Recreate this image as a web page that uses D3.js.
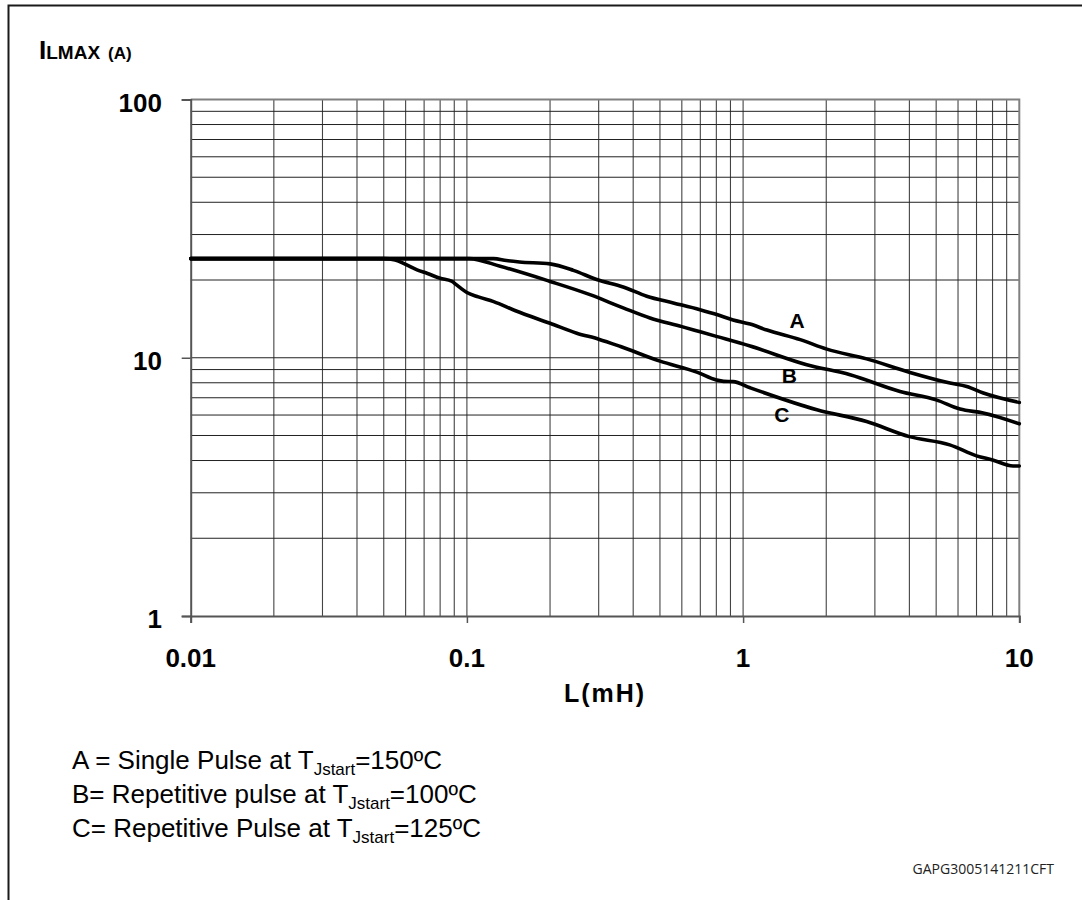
<!DOCTYPE html>
<html>
<head>
<meta charset="utf-8">
<script src="https://cdn.jsdelivr.net/npm/d3@7/dist/d3.min.js"></script>
<style>
  body { margin: 0; background: #fff; }
  svg { display: block; }
</style>
</head>
<body>
<svg id="chart" width="1082" height="900"></svg>
<script>
// Axis domains and tick labels
const xDomain = [0.01, 10];
const yDomain = [1, 100];
const xTickValues = [0.01, 0.1, 1, 10];
const xTickLabels = ["0.01", "0.1", "1", "10"];
const yTickValues = [1, 10, 100];
const yTickLabels = ["1", "10", "100"];

// Curve A: single pulse, Tj start 150 °C  (L in mH, I in A)
const curveA_L = [0.01, 0.125, 0.139, 0.155, 0.2, 0.243, 0.295, 0.368, 0.448, 0.559, 0.698, 0.803, 0.92, 1.06, 1.22, 1.61, 2.01, 2.8, 4.02, 5.61, 6.45, 7.41, 10];
const curveA_I = [24.2, 24.2, 23.8, 23.5, 23.1, 21.8, 20.1, 18.8, 17.3, 16.3, 15.35, 14.7, 14.0, 13.5, 12.8, 11.75, 10.8, 9.9, 8.77, 7.98, 7.74, 7.3, 6.71];

// Curve B: repetitive pulse, Tj start 100 °C
const curveB_L = [0.01, 0.102, 0.132, 0.2, 0.279, 0.368, 0.46, 0.6, 0.7, 0.8, 1.06, 1.7, 2.44, 3.7, 5.0, 6.1, 7.4, 10];
const curveB_I = [24.2, 24.2, 22.6, 19.75, 17.55, 15.6, 14.25, 13.2, 12.6, 12.1, 11.1, 9.4, 8.59, 7.4, 6.87, 6.33, 6.11, 5.55];

// Curve C: repetitive pulse, Tj start 125 °C
const curveC_L = [0.01, 0.05, 0.055, 0.06, 0.066, 0.072, 0.08, 0.088, 0.092, 0.095, 0.1, 0.11, 0.125, 0.15, 0.2, 0.25, 0.3, 0.36, 0.5, 0.68, 0.8, 0.85, 0.92, 1.06, 1.85, 2.8, 4.0, 5.6, 7.0, 8.0, 9.5, 10];
const curveC_I = [24.2, 24.2, 23.9, 23.0, 21.9, 21.2, 20.3, 19.8, 19.1, 18.6, 17.9, 17.2, 16.5, 15.2, 13.6, 12.45, 11.8, 11.05, 9.7, 8.8, 8.2, 8.1, 8.08, 7.65, 6.29, 5.66, 4.95, 4.6, 4.17, 4.02, 3.81, 3.81];

// In-plot curve tags, anchored in data coordinates (text baseline)
const tagNames = ["A", "B", "C"];
const tagL = [1.57, 1.47, 1.38];
const tagI = [13.05, 7.98, 5.64];

// Legend text pieces: prefix, subscript, suffix
const legendPrefix = ["A = Single Pulse at T", "B= Repetitive pulse at T", "C= Repetitive Pulse at T"];
const legendSub = ["Jstart", "Jstart", "Jstart"];
const legendSuffix = ["=150ºC", "=100ºC", "=125ºC"];

const footCode = "GAPG3005141211CFT";

const svg = d3.select("#chart");
const FONT = "'Liberation Sans', Arial, Helvetica, sans-serif";

// Outer frame (left and top edges)
svg.append("path")
  .attr("d", "M8.5,900 V5.5 H1082")
  .attr("fill", "none")
  .attr("stroke", "#1a1a1a")
  .attr("stroke-width", 2);

const x = d3.scaleLog().domain(xDomain).range([190.7, 1019.3]);
const y = d3.scaleLog().domain(yDomain).range([616, 99.5]);

const plot = svg.append("g");

// Log grid: every 1..9 step of each decade
const xGrid = x.ticks().filter(v => v > xDomain[0] && v < xDomain[1]);
const yGrid = y.ticks().filter(v => v > yDomain[0] && v < yDomain[1]);

plot.append("g").selectAll("line").data(xGrid).join("line")
  .attr("x1", d => x(d)).attr("x2", d => x(d))
  .attr("y1", y(yDomain[0])).attr("y2", y(yDomain[1]))
  .attr("stroke", "#444").attr("stroke-width", 1.1);

plot.append("g").selectAll("line").data(yGrid).join("line")
  .attr("x1", x(xDomain[0])).attr("x2", x(xDomain[1]))
  .attr("y1", d => y(d)).attr("y2", d => y(d))
  .attr("stroke", "#222").attr("stroke-width", 1);

// Plot border: top and right in grey, axes darker
plot.append("path")
  .attr("d", `M${x(xDomain[0])},${y(yDomain[1])} H${x(xDomain[1])} V${y(yDomain[0])}`)
  .attr("fill", "none").attr("stroke", "#808080").attr("stroke-width", 2);

// Y axis
const yAxis = d3.axisLeft(y).tickValues(yTickValues).tickSize(9).tickFormat("");
const gy = plot.append("g").attr("transform", `translate(${x(xDomain[0])},0)`).call(yAxis);
gy.select(".domain").attr("stroke", "#555").attr("stroke-width", 2);
gy.selectAll(".tick line").attr("stroke", "#555").attr("stroke-width", 1.5);

// X axis
const xAxis = d3.axisBottom(x).tickValues(xTickValues).tickSize(7).tickFormat("");
const gx = plot.append("g").attr("transform", `translate(0,${y(yDomain[0])})`).call(xAxis);
gx.select(".domain").attr("stroke", "#555").attr("stroke-width", 2);
gx.selectAll(".tick line").attr("stroke", "#555").attr("stroke-width", 1.5);

// Tick labels
svg.append("g").selectAll("text").data(yTickValues).join("text")
  .attr("x", 162).attr("y", d => y(d) + 12)
  .attr("text-anchor", "end")
  .attr("font-family", FONT).attr("font-weight", "bold").attr("font-size", 26)
  .attr("fill", "#000")
  .text((d, i) => yTickLabels[i]);

svg.append("g").selectAll("text").data(xTickValues).join("text")
  .attr("x", d => x(d)).attr("y", 667)
  .attr("text-anchor", "middle")
  .attr("font-family", FONT).attr("font-weight", "bold").attr("font-size", 26)
  .attr("fill", "#000")
  .text((d, i) => xTickLabels[i]);

// Axis titles
svg.append("text")
  .attr("x", (x(xDomain[0]) + x(xDomain[1])) / 2).attr("y", 702)
  .attr("text-anchor", "middle")
  .attr("font-family", FONT).attr("font-weight", "bold").attr("font-size", 25)
  .attr("letter-spacing", 2)
  .text("L(mH)");

const yTitle = svg.append("text")
  .attr("x", 39).attr("y", 59)
  .attr("font-family", FONT).attr("font-weight", "bold").attr("fill", "#000");
yTitle.append("tspan").attr("font-size", 26).text("I");
yTitle.append("tspan").attr("font-size", 19).text("LMAX");
yTitle.append("tspan").attr("font-size", 17).attr("dx", 8).text("(A)");

// Curves
const line = d3.line()
  .x(d => x(d[0]))
  .y(d => y(d[1]))
  .curve(d3.curveMonotoneX);

const series = [
  d3.zip(curveA_L, curveA_I),
  d3.zip(curveB_L, curveB_I),
  d3.zip(curveC_L, curveC_I)
];

plot.append("g").selectAll("path").data(series).join("path")
  .attr("d", line)
  .attr("fill", "none")
  .attr("stroke", "#000")
  .attr("stroke-width", 3.6)
  .attr("stroke-linejoin", "round")
  .attr("stroke-linecap", "round");

// Curve tags
svg.append("g").selectAll("text").data(tagNames).join("text")
  .attr("x", (d, i) => x(tagL[i])).attr("y", (d, i) => y(tagI[i]))
  .attr("text-anchor", "middle")
  .attr("font-family", FONT).attr("font-weight", "bold").attr("font-size", 21)
  .text(d => d);

// Legend
const legend = svg.append("g");
legendPrefix.forEach((p, i) => {
  const t = legend.append("text")
    .attr("x", 72).attr("y", 769 + i * 34)
    .attr("font-family", FONT).attr("font-size", 26).attr("fill", "#000");
  t.append("tspan").text(p);
  t.append("tspan").attr("font-size", 17).attr("dy", 6).text(legendSub[i]);
  t.append("tspan").attr("dy", -6).text(legendSuffix[i]);
});

// Figure code
svg.append("text")
  .attr("x", 1054).attr("y", 874)
  .attr("text-anchor", "end")
  .attr("font-family", "'Open Sans', 'Noto Sans', sans-serif")
  .attr("font-size", 14).attr("fill", "#222")
  .text(footCode);
</script>
</body>
</html>
